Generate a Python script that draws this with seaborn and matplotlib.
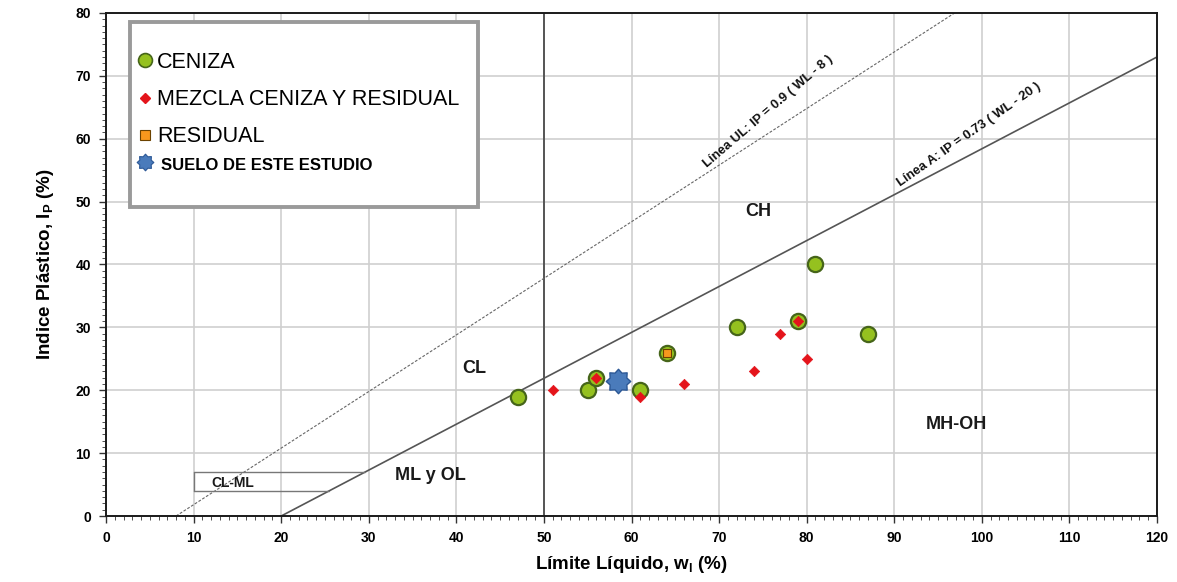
import numpy as np
import matplotlib
matplotlib.use("Agg")
import matplotlib.pyplot as plt
import seaborn as sns
import pandas as pd
from matplotlib.lines import Line2D
from matplotlib.patches import Rectangle
from matplotlib.path import Path

# ---------------- data ----------------
ceniza_wl = [47, 55, 56, 61, 64, 72, 79, 81, 87]
ceniza_ip = [19, 20, 22, 20, 26, 30, 31, 40, 29]
mezcla_wl = [51, 56, 61, 66, 74, 77, 79, 80]
mezcla_ip = [20, 22, 19, 21, 23, 29, 31, 25]
residual_wl = [64]
residual_ip = [26]
estudio_wl = [58.4]
estudio_ip = [21.4]

legend_labels = ["CENIZA", "MEZCLA CENIZA Y RESIDUAL", "RESIDUAL", "SUELO DE ESTE ESTUDIO"]
x_ticks = list(range(0, 121, 10))
y_ticks = list(range(0, 81, 10))
a_slope, a_offset = 0.73, 20      # Línea A: IP = 0.73 (WL - 20)
u_slope, u_offset = 0.9, 8        # Línea UL: IP = 0.9 (WL - 8)
clml_ip = [4, 7]
zone_names = ["CH", "CL", "ML y OL", "MH-OH", "CL-ML"]

# ---------------- style ----------------
sns.set_theme(style="white")
plt.rcParams["font.family"] = ["Liberation Sans", "DejaVu Sans"]
plt.rcParams["mathtext.fontset"] = "custom"
plt.rcParams["mathtext.rm"] = "Liberation Sans"
plt.rcParams["mathtext.bf"] = "Liberation Sans:bold"
for k in ["text.color", "axes.labelcolor", "xtick.color", "ytick.color"]:
    plt.rcParams[k] = "black"

fig = plt.figure(figsize=(11.77, 5.82), dpi=100)
ax = fig.add_axes([0.0901, 0.1134, 0.8929, 0.8643])

green = "#95c11f"
green_edge = "#46651a"
red = "#e4141b"
orange = "#f7981d"
orange_edge = "#6b4200"
blue = "#4a7bbb"
blue_edge = "#2c5896"

# rounded 8-point star (gear-like) marker
_ang = np.arange(16) * np.pi / 8 + np.pi / 2
_rad = np.where(np.arange(16) % 2 == 0, 1.0, 0.74)
_verts = np.column_stack([_rad * np.cos(_ang), _rad * np.sin(_ang)])
_verts = np.vstack([_verts, _verts[:1]])
star_marker = Path(_verts, closed=True)

# ---------------- reference lines ----------------
ax.axvline(50, color="#555555", lw=1.4, zorder=2)
xa = np.array([a_offset, 120])
ax.plot(xa, a_slope * (xa - a_offset), color="#555555", lw=1.2, zorder=2)
xu = np.array([u_offset, 120])
ax.plot(xu, u_slope * (xu - u_offset), color="#666666", lw=0.8,
        ls=(0, (2.5, 1.5)), zorder=2)

# CL-ML box
for ip in clml_ip:
    x_end = a_offset + ip / a_slope
    ax.plot([10, x_end], [ip, ip], color="#777777", lw=1.0, zorder=2)
ax.plot([10, 10], clml_ip, color="#777777", lw=1.0, zorder=2)

# ---------------- scatter data ----------------
df_c = pd.DataFrame({"wl": ceniza_wl, "ip": ceniza_ip})
df_m = pd.DataFrame({"wl": mezcla_wl, "ip": mezcla_ip})
df_r = pd.DataFrame({"wl": residual_wl, "ip": residual_ip})
df_e = pd.DataFrame({"wl": estudio_wl, "ip": estudio_ip})

sns.scatterplot(data=df_c, x="wl", y="ip", ax=ax, marker="o", s=120,
                color=green, edgecolor=green_edge, linewidth=1.6, zorder=3, legend=False)
sns.scatterplot(data=df_m, x="wl", y="ip", ax=ax, marker="D", s=28,
                color=red, edgecolor=red, linewidth=0.5, zorder=4, legend=False)
sns.scatterplot(data=df_r, x="wl", y="ip", ax=ax, marker="s", s=40,
                color=orange, edgecolor=orange_edge, linewidth=0.8, zorder=5, legend=False)
sns.scatterplot(data=df_e, x="wl", y="ip", ax=ax, marker=star_marker, s=310,
                color=blue, edgecolor=blue_edge, linewidth=1.0, zorder=6, legend=False)

# ---------------- texts ----------------
zone_style = dict(fontsize=13, fontweight="bold", color="#1a1a1a",
                  ha="center", va="center", zorder=3)
ax.text(74.5, 48.5, zone_names[0], **zone_style)
ax.text(42, 23.5, zone_names[1], **zone_style)
ax.text(37, 6.5, zone_names[2], **zone_style)
ax.text(97.1, 14.6, zone_names[3], **zone_style)
ax.text(14.5, 5.3, zone_names[4], fontsize=10, fontweight="bold", color="#1a1a1a",
        ha="center", va="center", zorder=3)

ax.text(68.8, 0.9 * (68.8 - u_offset) + 0.3, "Línea UL: IP = 0.9 ( WL - 8 )",
        fontsize=9.4, fontweight="bold", color="#111111", ha="left", va="bottom",
        rotation=40.5, rotation_mode="anchor", zorder=3)
ax.text(90.9, a_slope * (90.9 - a_offset) + 0.3, "Línea A: IP = 0.73 ( WL - 20 )",
        fontsize=9.4, fontweight="bold", color="#111111", ha="left", va="bottom",
        rotation=35, rotation_mode="anchor", zorder=3)

# ---------------- axes ----------------
ax.set_xlim(0, 120)
ax.set_ylim(0, 80)
ax.set_xticks(x_ticks)
ax.set_yticks(y_ticks)
ax.set_xticks(np.arange(0, 121, 1), minor=True)
ax.set_yticks(np.arange(0, 81, 1), minor=True)
ax.grid(True, which="major", color="#cfcfcf", lw=1.2, zorder=0)
ax.set_axisbelow(True)
ax.tick_params(which="both", bottom=True, left=True, direction="out", color="#333333")
ax.tick_params(which="major", length=5, width=1.0, labelsize=10, pad=6)
ax.tick_params(which="minor", length=3, width=0.6)
for lab in ax.get_xticklabels() + ax.get_yticklabels():
    lab.set_fontweight("bold")
for sp in ax.spines.values():
    sp.set_color("#1a1a1a")
    sp.set_linewidth(1.4)

ax.set_xlabel(r"Límite Líquido, w$_\mathbf{l}$ (%)", fontsize=13.5, fontweight="bold", labelpad=6)
ax.set_ylabel(r"Indice Plástico, I$_\mathbf{P}$ (%)", fontsize=13.5, fontweight="bold", labelpad=14)

# ---------------- legend ----------------
box = Rectangle((0.0228, 0.614), 0.331, 0.368, transform=ax.transAxes,
                facecolor="white", edgecolor="#9a9a9a", lw=2.8, zorder=7)
ax.add_patch(box)
handles = [
    Line2D([], [], ls="none", marker="o", ms=10, mfc=green, mec=green_edge, mew=1.2),
    Line2D([], [], ls="none", marker="D", ms=5, mfc=red, mec=red),
    Line2D([], [], ls="none", marker="s", ms=7, mfc=orange, mec=orange_edge, mew=0.8),
    Line2D([], [], ls="none", marker=star_marker, ms=12, mfc=blue, mec=blue_edge, mew=0.8),
]
leg_kw = dict(frameon=False, fontsize=15.5, handlelength=0.8, borderaxespad=0)
leg = ax.legend(handles[:3], legend_labels[:3], loc="upper left",
                bbox_to_anchor=(0.021, 0.94), handletextpad=0.15,
                labelspacing=0.76, **leg_kw)
leg.set_zorder(8)
for t in leg.get_texts():
    t.set_color("black")
ax.add_artist(leg)

leg2 = ax.legend(handles[3:], legend_labels[3:], loc="center left",
                 bbox_to_anchor=(0.021, 0.700), handletextpad=0.35, **leg_kw)
leg2.set_zorder(8)
t4 = leg2.get_texts()[0]
t4.set_color("black")
t4.set_fontweight("bold")
t4.set_fontsize(12)

fig.savefig("out.png", dpi=100)
